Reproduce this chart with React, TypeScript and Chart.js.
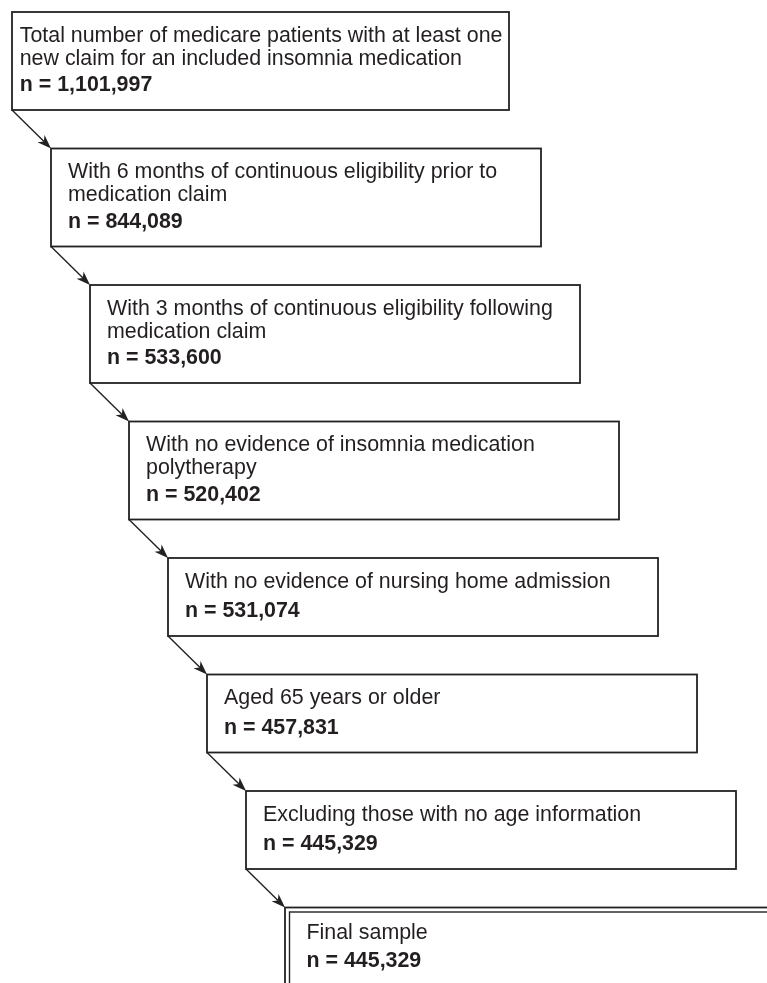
import React, { useEffect, useRef } from "react";
import { Chart, registerables } from "chart.js";

Chart.register(...registerables);

// ---- data ----
const stepTexts: string[][] = [
  ["Total number of medicare patients with at least one", "new claim for an included insomnia medication"],
  ["With 6 months of continuous eligibility prior to", "medication claim"],
  ["With 3 months of continuous eligibility following", "medication claim"],
  ["With no evidence of insomnia medication", "polytherapy"],
  ["With no evidence of nursing home admission"],
  ["Aged 65 years or older"],
  ["Excluding those with no age information"],
  ["Final sample"],
];
const stepCounts: number[] = [1101997, 844089, 533600, 520402, 531074, 457831, 445329, 445329];
const finalStepIndex = 7;

// ---- layout (pixel-space units of the chart's scales) ----
const VIEW_W = 767;
const VIEW_H = 983;
const LAYOUT = {
  left0: 12,
  stepX: 39,
  top0: 12,
  gap: 38.5,
  baseH: 38,
  lineH: 20,
  firstWidth: 497,
  width: 490,
  finalExtra: 40,
  padFirst: 7.7,
  pad: 17,
  firstBaseline: 29.5,
  textLineStep: 23,
  nFromBottom: 19,
  doubleGap: 4.5,
};

const FONT = '"Liberation Sans", Arial, Helvetica, sans-serif';
const FONT_SIZE = 21.4;
const INK = "#231f20";
const LINE = "#222222";

const flowPlugin = {
  id: "flowDiagram",
  afterDraw(chart: any) {
    const { ctx } = chart;
    const xs = chart.scales.x;
    const ys = chart.scales.y;
    const px = (v: number) => xs.getPixelForValue(v);
    const py = (v: number) => ys.getPixelForValue(v);

    const boxes: { l: number; t: number; w: number; h: number }[] = [];
    let top = LAYOUT.top0;
    stepTexts.forEach((lines, i) => {
      const h = LAYOUT.baseH + LAYOUT.lineH * (lines.length + 1);
      const w = i === 0 ? LAYOUT.firstWidth : LAYOUT.width;
      boxes.push({ l: LAYOUT.left0 + LAYOUT.stepX * i, t: top, w, h });
      top += h + LAYOUT.gap;
    });

    ctx.save();
    // arrows
    for (let i = 0; i < boxes.length - 1; i++) {
      const a = boxes[i];
      const b = boxes[i + 1];
      const x0 = px(a.l), y0 = py(a.t + a.h);
      const x1 = px(b.l), y1 = py(b.t);
      const ang = Math.atan2(y1 - y0, x1 - x0);
      const headLen = 14;
      const headW = 5;
      ctx.strokeStyle = LINE;
      ctx.lineWidth = 1.4;
      ctx.beginPath();
      ctx.moveTo(x0, y0);
      ctx.lineTo(x1 - Math.cos(ang) * headLen * 0.7, y1 - Math.sin(ang) * headLen * 0.7);
      ctx.stroke();
      ctx.fillStyle = LINE;
      ctx.beginPath();
      ctx.moveTo(x1, y1);
      const bx = x1 - Math.cos(ang) * headLen;
      const by = y1 - Math.sin(ang) * headLen;
      ctx.lineTo(bx + Math.sin(ang) * headW, by - Math.cos(ang) * headW);
      ctx.lineTo(x1 - Math.cos(ang) * headLen * 0.72, y1 - Math.sin(ang) * headLen * 0.72);
      ctx.lineTo(bx - Math.sin(ang) * headW, by + Math.cos(ang) * headW);
      ctx.closePath();
      ctx.fill();
    }

    // boxes
    boxes.forEach((bx, i) => {
      const isFinal = i === finalStepIndex;
      const w = isFinal ? bx.w + LAYOUT.finalExtra : bx.w;
      const h = isFinal ? bx.h + LAYOUT.finalExtra : bx.h;
      const L = px(bx.l), T = py(bx.t), R = px(bx.l + w), B = py(bx.t + h);
      ctx.fillStyle = "#ffffff";
      ctx.fillRect(L, T, R - L, B - T);
      ctx.strokeStyle = LINE;
      ctx.lineWidth = 1.8;
      ctx.strokeRect(L, T, R - L, B - T);
      let inset = 0;
      if (isFinal) {
        const d = LAYOUT.doubleGap;
        ctx.lineWidth = 1.4;
        ctx.strokeRect(L + d, T + d, R - L - 2 * d, B - T - 2 * d);
        inset = d;
      }
      const pad = i === 0 ? LAYOUT.padFirst : LAYOUT.pad + inset;
      const tx = px(bx.l + pad);
      ctx.fillStyle = INK;
      ctx.textBaseline = "alphabetic";
      ctx.textAlign = "left";
      ctx.font = `${FONT_SIZE}px ${FONT}`;
      stepTexts[i].forEach((line, k) => {
        ctx.fillText(line, tx, py(bx.t + LAYOUT.firstBaseline + inset * 0.5 + k * LAYOUT.textLineStep));
      });
      ctx.font = `bold ${FONT_SIZE}px ${FONT}`;
      ctx.fillText(
        "n = " + stepCounts[i].toLocaleString("en-US"),
        tx,
        py(bx.t + bx.h - LAYOUT.nFromBottom)
      );
    });
    ctx.restore();
  },
};

export default function App() {
  const ref = useRef<HTMLCanvasElement | null>(null);
  useEffect(() => {
    if (!ref.current) return;
    const chart = new Chart(ref.current, {
      type: "scatter",
      data: {
        datasets: [
          {
            label: "steps",
            data: stepCounts.map((c, i) => ({ x: i, y: 0 })),
            pointRadius: 0,
            showLine: false,
          },
        ],
      },
      options: {
        animation: false,
        responsive: true,
        maintainAspectRatio: false,
        devicePixelRatio: 1,
        layout: { padding: 0 },
        events: [],
        scales: {
          x: { type: "linear", min: 0, max: VIEW_W, display: false },
          y: { type: "linear", min: 0, max: VIEW_H, reverse: true, display: false },
        },
        plugins: { legend: { display: false }, tooltip: { enabled: false } },
      },
      plugins: [flowPlugin],
    });
    return () => chart.destroy();
  }, []);
  return (
    <div style={{ position: "absolute", left: 0, top: 0, width: VIEW_W, height: VIEW_H, background: "#fff" }}>
      <canvas ref={ref} />
    </div>
  );
}
